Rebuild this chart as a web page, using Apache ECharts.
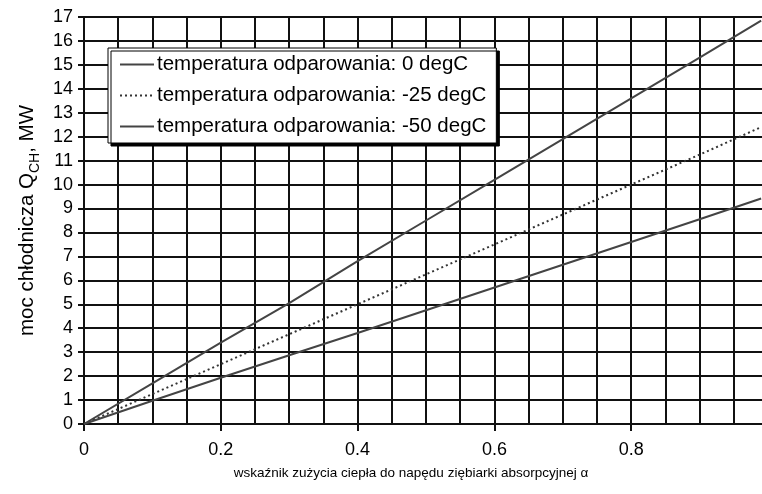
<!DOCTYPE html>
<html>
<head>
<meta charset="utf-8">
<script src="https://cdn.jsdelivr.net/npm/echarts@6/dist/echarts.min.js"></script>
<style>html,body{margin:0;padding:0;background:#fff}#c{width:762px;height:494px}</style>
</head>
<body>
<div id="c"></div>
<script>
const alpha = [0, 0.1, 0.2, 0.3, 0.4, 0.5, 0.6, 0.7, 0.8, 0.9, 0.99];
const q0 = [0, 1.7, 3.4, 5.05, 6.8, 8.5, 10.2, 11.9, 13.6, 15.3, 16.85];
const q25 = [0, 1.25, 2.5, 3.75, 5.0, 6.25, 7.5, 8.75, 10.0, 11.25, 12.4];
const q50 = [0, 0.97, 1.93, 2.87, 3.8, 4.75, 5.7, 6.65, 7.6, 8.55, 9.42];
const seriesNames = ['temperatura odparowania: 0 degC', 'temperatura odparowania: -25 degC', 'temperatura odparowania: -50 degC'];
const xTitle = 'wskaźnik zużycia ciepła do napędu ziębiarki absorpcyjnej α';

const font = 'Liberation Sans, Arial, sans-serif';
const pair = arr => alpha.map((a, i) => [a, arr[i]]);
const chart = echarts.init(document.getElementById('c'), null, {renderer: 'canvas'});
const gridLine = {show: true, lineStyle: {color: '#111', width: 2}};
chart.setOption({
  animation: false,
  backgroundColor: '#fff',
  grid: {left: 84, top: 17, width: 684, bottom: 70, containLabel: false, outerBoundsMode: 'none'},
  legend: {
    orient: 'vertical', left: 108, top: 48,
    backgroundColor: '#fff', borderColor: '#000', borderWidth: 1,
    shadowColor: '#000', shadowBlur: 0, shadowOffsetX: 3, shadowOffsetY: 3,
    padding: [6, 10, 6, 11], itemGap: 10, itemWidth: 34, itemHeight: 16,
    itemStyle: {opacity: 0},
    textStyle: {fontFamily: font, fontSize: 20.5, lineHeight: 20, color: '#000', padding: [0, 0, 0, -2]},
    data: seriesNames
  },
  xAxis: {
    type: 'value', min: 0, max: 1, interval: 0.2,
    axisLine: {show: true, onZero: false, lineStyle: {color: '#111', width: 2}},
    axisTick: {show: true, length: 7, lineStyle: {color: '#111', width: 2}},
    axisLabel: {fontFamily: font, fontSize: 18, color: '#000', margin: 17},
    splitLine: gridLine,
    minorTick: {show: false, splitNumber: 4},
    minorSplitLine: {show: true, lineStyle: {color: '#111', width: 2}},
    name: xTitle, nameLocation: 'middle', nameGap: 42,
    nameTextStyle: {fontFamily: font, fontSize: 13.5, color: '#000', padding: [0, 30, 0, 0]}
  },
  yAxis: {
    type: 'value', min: 0, max: 17, interval: 1,
    axisLine: {show: true, lineStyle: {color: '#111', width: 2}},
    axisTick: {show: true, length: 6, lineStyle: {color: '#111', width: 2}},
    axisLabel: {fontFamily: font, fontSize: 18, color: '#000', margin: 11},
    splitLine: gridLine,
    name: '{a|moc chłodnicza Q}{b|CH}{a|, MW}', nameLocation: 'middle', nameGap: 45,
    nameTextStyle: {
      fontFamily: font, color: '#000',
      rich: {
        a: {fontFamily: font, fontSize: 20.5, color: '#000', lineHeight: 24, verticalAlign: 'bottom'},
        b: {fontFamily: font, fontSize: 14, color: '#000', lineHeight: 24, verticalAlign: 'bottom', padding: [0, 0, -4, 0]}
      }
    }
  },
  series: [
    {name: seriesNames[0], type: 'line', data: pair(q0), symbol: 'none', lineStyle: {color: '#444', width: 2, type: 'solid'}, itemStyle: {color: '#444'}},
    {name: seriesNames[1], type: 'line', data: pair(q25), symbol: 'none', lineStyle: {color: '#333', width: 2, type: [2, 3]}, itemStyle: {color: '#333'}},
    {name: seriesNames[2], type: 'line', data: pair(q50), symbol: 'none', lineStyle: {color: '#444', width: 2, type: 'solid'}, itemStyle: {color: '#444'}}
  ]
});
</script>
</body>
</html>
